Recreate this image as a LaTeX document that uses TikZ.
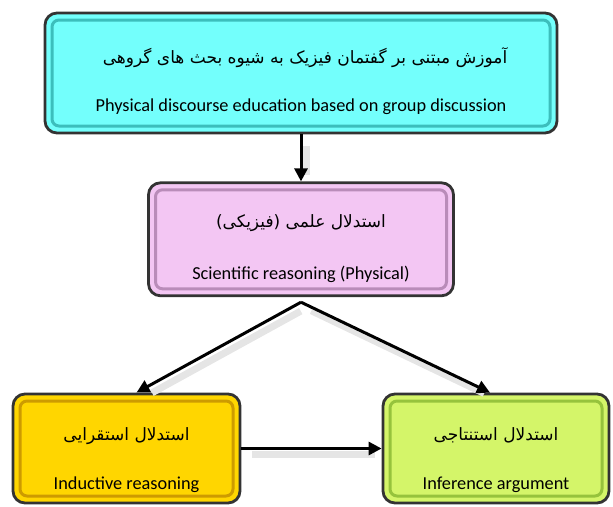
\documentclass[tikz,border=0pt]{standalone}
\usepackage{fontspec}
\setmainfont{Carlito}
\newfontfamily\farsi[Script=Arabic]{DejaVu Sans}
\TeXXeTstate=1
\usetikzlibrary{arrows,arrows.meta,positioning}
\definecolor{cyanfill}{RGB}{115,255,252}
\definecolor{cyanedge}{RGB}{60,190,188}
\definecolor{pinkfill}{RGB}{243,198,243}
\definecolor{pinkedge}{RGB}{185,140,185}
\definecolor{goldfill}{RGB}{255,214,0}
\definecolor{goldedge}{RGB}{205,155,0}
\definecolor{limefill}{RGB}{212,245,105}
\definecolor{limeedge}{RGB}{150,195,60}
\tikzset{
    %Define standard arrow tip
    >={Triangle[length=13pt,width=13pt]},
    %Define style for boxes
    stage/.style 2 args={
           rectangle,
           rounded corners=12pt,
           draw=black!80, line width=2.8pt,
           inner sep=0pt,
           fill=#1,
           path picture={
             \draw[#2, line width=3pt, rounded corners=7pt]
               ([shift={(7pt,-7pt)}]path picture bounding box.north west) rectangle
               ([shift={(-7pt,7pt)}]path picture bounding box.south east);}},
    %Define style for texts
    fa/.style={anchor=base, font=\farsi\fontsize{17}{20}\selectfont},
    en/.style={anchor=base, font=\fontsize{18.3}{22}\selectfont},
    % Define arrow style
    pil/.style={
           ->,
           line width=3pt,
           preaction={draw=black!10, line width=7pt, -,
                      shorten <=6pt, shorten >=12pt,
                      transform canvas={shift={(5pt,-6pt)}}}},
}
\begin{document}
\begin{tikzpicture}[x=1pt,y=-1pt,node distance=47pt]
\useasboundingbox (0,0) rectangle (613,506);

 %boxes
\node[stage={cyanfill}{cyanedge}, minimum width=512pt, minimum height=120pt](1) at (301,73){};
\node[stage={pinkfill}{pinkedge}, minimum width=305pt, minimum height=113pt, below=of 1](2){};
\node[stage={goldfill}{goldedge}, minimum width=227pt, minimum height=109pt](3) at (126.5,448.5){};
\node[stage={limefill}{limeedge}, minimum width=226pt, minimum height=109pt](4) at (496,448.5){};

 %texts
\node[fa] (1a) at ([xshift=4pt,yshift=10pt]1.center){\beginR آموزش مبتنی بر گفتمان فیزیک به شیوه بحث های گروهی\endR};
\node[en] (1b) at ([yshift=-38pt]1.center){Physical discourse education based on group discussion};
\node[fa] (2a) at ([yshift=11.5pt]2.center){\beginR استدلال علمی (فیزیکی)\endR};
\node[en] (2b) at ([yshift=-40.5pt]2.center){Scientific reasoning (Physical)};
\node[fa] (3a) at ([yshift=8.5pt]3.center){\beginR استدلال استقرایی\endR};
\node[en] (3b) at ([yshift=-40.5pt]3.center){Inductive reasoning};
\node[fa] (4a) at ([yshift=8.5pt]4.center){\beginR استدلال استنتاجی\endR};
\node[en] (4b) at ([yshift=-40.5pt]4.center){Inference argument};

 %arrows
\coordinate (split) at ([yshift=-5pt]2.south);
\draw[pil] (1) -- (2);
\draw[pil] (split) -- ([xshift=10pt]3.north);
\draw[pil] (split) -- ([xshift=-6pt]4.north);
\draw[pil] (3) -- (4);

\end{tikzpicture}
\end{document}
